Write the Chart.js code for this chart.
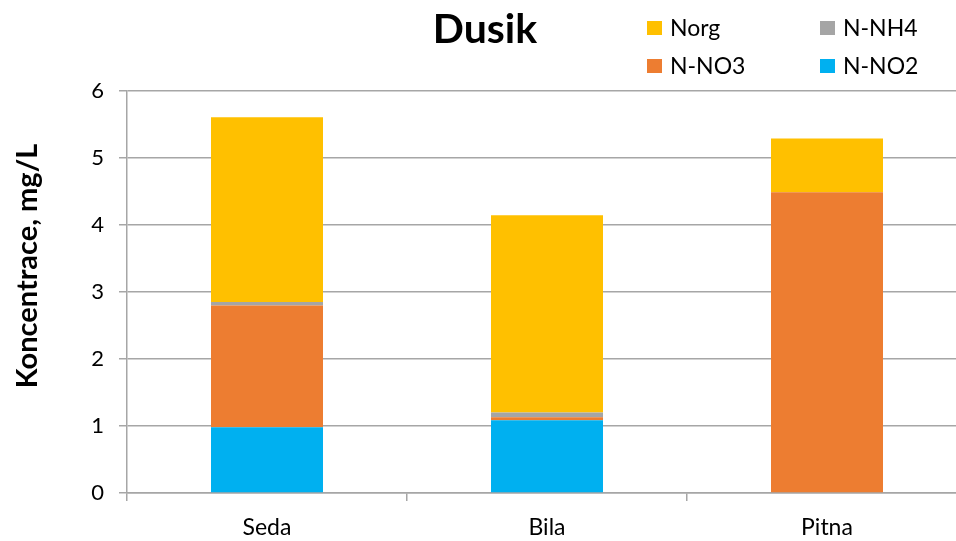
<!DOCTYPE html>
<html><head><meta charset="utf-8">
<script src="https://cdn.jsdelivr.net/npm/chart.js@4"></script>
<style>html,body{margin:0;padding:0;background:#fff;overflow:hidden}#wrap{width:956px;height:541px;overflow:hidden}</style>
</head><body><div id="wrap"><canvas id="c" width="970" height="541"></canvas></div>
<script>
const categories = ["Seda", "Bila", "Pitna"];
const nNO2 = [0.98, 1.085, 0];
const nNO3 = [1.82, 0.045, 4.49];
const nNH4 = [0.05, 0.07, 0];
const norg = [2.76, 2.945, 0.80];
const yTicks = [0, 1, 2, 3, 4, 5, 6];
const chartTitle = "Dusik";
const yTitle = "Koncentrace, mg/L";
const FONT = "Lato, 'Open Sans', sans-serif";

const legendPlugin = {
  id: 'customLegend',
  afterDraw(chart) {
    const ctx = chart.ctx;
    ctx.save();
    // title
    ctx.fillStyle = '#000';
    ctx.font = "bold 41px " + FONT;
    ctx.textAlign = 'center';
    ctx.textBaseline = 'middle';
    ctx.fillText(chartTitle, 485, 30);
    // y axis title
    ctx.save();
    ctx.translate(28, 266);
    ctx.rotate(-Math.PI / 2);
    ctx.font = "bold 29px " + FONT;
    ctx.fillText(yTitle, 0, 0);
    ctx.restore();
    // legend: reverse order, 2 columns
    const ds = chart.data.datasets.slice().reverse();
    const cols = [647, 820];
    const rows = [28, 66];
    ctx.font = "23px " + FONT;
    ctx.textAlign = 'left';
    ds.forEach((d, i) => {
      const x = cols[i % 2], y = rows[Math.floor(i / 2)];
      ctx.fillStyle = d.backgroundColor;
      ctx.fillRect(x, y - 7, 15, 14);
      ctx.fillStyle = '#000';
      ctx.fillText(d.label, x + 23, y + 1);
    });
    ctx.restore();
  }
};

new Chart(document.getElementById('c'), {
  type: 'bar',
  data: {
    labels: categories,
    datasets: [
      { label: 'N-NO2', data: nNO2, backgroundColor: '#00B0F0' },
      { label: 'N-NO3', data: nNO3, backgroundColor: '#ED7D31' },
      { label: 'N-NH4', data: nNH4, backgroundColor: '#A5A5A5' },
      { label: 'Norg', data: norg, backgroundColor: '#FFC000' }
    ]
  },
  options: {
    responsive: false,
    animation: false,
    layout: { padding: { top: 91, right: 3, bottom: 0, left: 2 } },
    datasets: { bar: { barPercentage: 0.4, categoryPercentage: 1.0, borderWidth: 0 } },
    plugins: { legend: { display: false }, title: { display: false }, tooltip: { enabled: false } },
    scales: {
      x: {
        stacked: true,
        afterFit(scale) { scale.height = 48; },
        grid: { display: true, drawOnChartArea: false, offset: true, color: '#A6A6A6', lineWidth: 1.5, tickLength: 8 },
        border: { color: '#A6A6A6', width: 1.5 },
        ticks: { color: '#000', font: { family: FONT, size: 23 }, padding: 13 }
      },
      y: {
        stacked: true,
        min: 0, max: 6,
        afterFit(scale) { scale.width = 125; },
        afterBuildTicks(scale) { scale.ticks = yTicks.map(v => ({ value: v })); },
        grid: { color: '#A6A6A6', lineWidth: 1.5, tickLength: 8 },
        border: { color: '#A6A6A6', width: 1.5 },
        ticks: { color: '#000', font: { family: FONT, size: 22 }, padding: 15 }
      }
    }
  },
  plugins: [legendPlugin]
});
</script></body></html>
